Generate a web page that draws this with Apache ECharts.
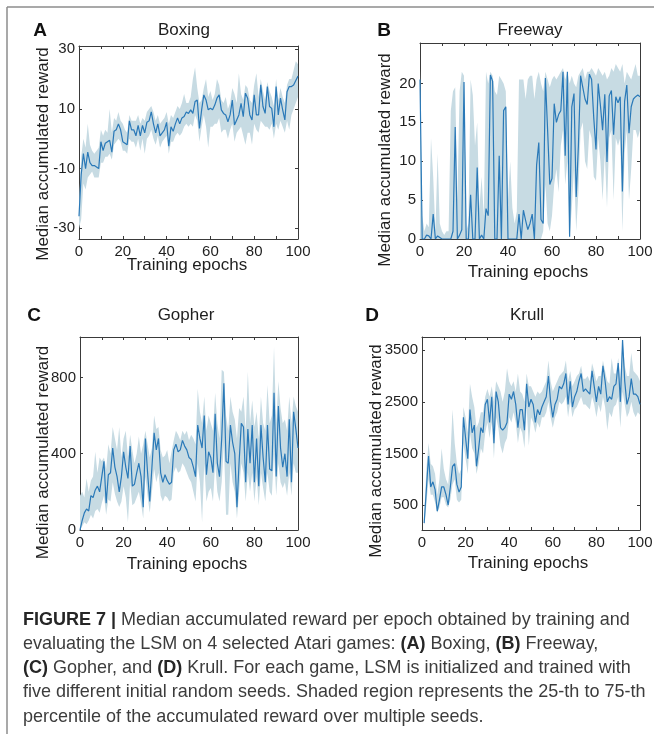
<!DOCTYPE html>
<html>
<head>
<meta charset="utf-8">
<script src="https://cdn.jsdelivr.net/npm/echarts@6/dist/echarts.min.js"></script>
<style>
html,body{margin:0;padding:0;background:#fff;}
#chart{width:654px;height:734px;}
</style>
</head>
<body>
<div id="chart"></div>
<script>
// ---------------- DATA ----------------
const panelLetters = ['A', 'B', 'C', 'D'];
const gameTitles = ['Boxing', 'Freeway', 'Gopher', 'Krull'];
const xTitle = 'Training epochs';
const yTitle = 'Median accumulated reward';
const xLabelValues = [0, 20, 40, 60, 80, 100];

// Boxing (epochs 0..100)
const boxingStart = 0;
const boxingTicks = [-30, -10, 10, 30];
const boxingMedian = [-26,-12,-5,-10,-4.5,-8,-9,-9,-9.5,-10,-1,-4,-1.5,-1,-0.5,-4.5,2.5,3,5,3,-1,-1.5,-2,6,3,3,1,4.5,1,4.5,2,5.5,6,9,5,2,5,1,2,3,5.5,-2.5,4,2.5,5,7,5,7,7.5,9,8.5,9.7,8.5,12.5,13,3.5,9.7,14.7,13,9.7,10.2,9.7,11.3,13.6,14.7,9.7,8.5,8,5.7,8,13,4.6,6.3,8,11.9,7.4,15.3,13.6,8,6.3,14.7,8,8,18.1,10.8,8.5,17.5,10.8,10.2,4,17.5,8,13.6,9.7,6.3,15.8,17.5,17.5,18,19.5,21];
const boxingUpper = [-22,-6,0,-3,5,-2,-4,-5,-4,-3,3,1,3,2,10,2,7,6,9,6,5,3,2,8,6,6,6,8,5,7,6,9,10,11,9,6,8,5,6,7,9,5,8,7,9,11,10,12,15,12,12,14,20,24,17,12,13,17,20,14,16,13,15,20,18,13,12,14,10,12,17,15,12,22,15,13,18,17,13,12,18,22,14,20,16,13,19,16,14,11,20,13,17,14,12,18,20,20,23,26,25];
const boxingLower = [-30,-27,-15,-17,-13,-12,-11,-13,-13,-13,-8,-8,-6,-6,-5,-7,-2,-1,0,-1,-4,-4,-5,0,-1,-1,-3,0,-4,0,-5,0,1,3,0,-2,1,-3,-1,0,1,-5,-1,-1,1,2,1,2,4,5,4,5,4,8,6,-1,4,8,4,-3,4,4,5,5,7,2,3,3,0,3,5,-1,2,3,4,1,-2,2,2,-2,5,3,2,6,5,4,4,3,5,0,5,3,6,4,2,6,3,8,10,12,14];

// Freeway (epochs 0..100)
const freewayStart = 0;
const freewayTicks = [0, 5, 10, 15, 20];
const freewayMedian = [20.5,0,0,0.5,0.4,0,3.2,0,0.4,0.2,0,0,0,0,0,1,14.4,0,0.5,1.2,20.2,0,0,5.7,0,0,9.2,0,0.5,0,3.9,3,21.1,20.3,0,0,10.7,0,16.5,17,0,0,0,0,0,3.2,0,3.7,2.4,1.2,2,3.2,0,9.5,12.4,2.5,2,20.7,14,7,7.8,17.4,15,16,16.5,21.5,10.7,21.5,0.3,17,18.7,5.4,12,21,19.5,18,17.3,21.2,20.5,15.5,11.5,20,17.2,14,18.6,9.9,18.4,19.1,13.4,18.3,17.5,18.3,6.1,17.7,19.8,13.6,17,18,18.3,18.5,18.3];
const freewayUpper = [22,3,1,2,1.5,13,8,1,11,2,1,0.5,1,1,16.5,19,19.5,5,19,21.5,21,1,2,20.5,18.5,12,15,4,8,3,21.5,20,21.5,21,19,18.5,21,20.5,20,19,5,10,4,2,3.5,20.5,20.5,20.5,18,20.5,21,21,18,20.5,21.5,20,19,21.5,20.5,19.5,20.5,21,20.5,21,21.5,22,20.5,21.5,20,21,20,19.5,21,21.5,22,20.5,21.5,21.5,22,21.5,21,22,21.5,21,21.5,20.5,21,22,21.5,22.5,22,21.5,22.5,20,21.5,21,20.5,21.5,22.5,21,21];
const freewayLower = [0,0,0,0,0,0,0,0,0,0,0,0,0,0,0,0,0,0,0,0,0,0,0,0,0,0,0,0,0,0,0,0,0,0,0,0,0,0,0,0,0,0,0,0,0,0,0,0,0,0,0,0,0,0,0,0,1,7,2,1,3,7,9,6,12,14,7,10,0,4,9,1,6,14,15,10,9,14,13,8,7.5,13,10,5,11,4,13,14,5,13,12,13,1,11,14,5,9,14,14,13,14];

// Gopher (epochs 0..100)
const gopherStart = 0;
const gopherTicks = [0, 400, 800];
const gopherMedian = [0,50,90,110,100,180,170,210,230,200,280,360,140,290,300,430,330,280,200,280,410,330,270,440,230,240,300,350,280,120,480,300,150,330,510,420,480,300,250,290,260,240,250,420,450,410,420,470,440,420,380,370,330,280,550,480,430,600,290,410,380,300,610,350,280,480,770,360,350,550,460,400,120,360,560,540,250,530,350,550,250,480,230,550,380,250,550,320,310,720,280,650,430,330,400,280,580,250,620,530,430];
const gopherUpper = [180,200,170,270,200,260,280,410,300,380,360,380,320,450,400,540,480,420,540,380,480,520,380,500,420,350,400,490,400,450,520,450,380,430,600,530,540,420,380,390,420,350,410,470,520,500,470,520,500,520,470,500,480,450,740,620,560,700,520,600,560,520,720,560,480,840,830,600,520,700,620,580,480,640,620,700,520,830,560,680,540,620,480,700,560,520,760,560,600,960,560,780,640,560,580,520,700,560,700,650,620];
const gopherLower = [0,20,40,30,50,80,60,100,110,90,140,180,80,160,150,250,190,150,120,150,230,170,40,250,130,140,170,200,140,60,280,180,90,200,320,250,300,180,150,180,170,150,160,300,330,300,310,350,330,300,270,250,200,150,350,250,40,350,150,200,220,150,350,200,150,250,450,80,80,350,250,200,60,200,350,300,150,300,200,300,150,280,130,300,220,150,300,200,180,400,180,350,250,220,250,180,300,180,350,300,300];

// Krull (epochs 1..100)
const krullStart = 1;
const krullTicks = [500, 1500, 2500, 3500];
const krullMedian = [150,800,1450,850,950,800,380,600,850,850,700,500,850,1250,1300,900,750,850,2200,1800,1400,2350,1900,2050,1250,1600,2000,1900,2450,2550,2100,2600,1700,2700,2500,2000,1950,2000,2100,2650,2550,2700,2450,2000,2350,2350,1950,2850,2400,2550,2450,2100,2350,2250,2400,2500,2600,3000,2500,2200,2450,2550,2800,2750,2850,3050,2450,2900,2400,2600,2700,2900,3050,2700,2750,2700,2650,3100,2800,2500,2800,2650,3200,2900,2500,2600,2550,2800,2850,3250,2500,3700,2900,2450,2600,2950,2650,2650,2600,2450];
const krullUpper = [300,1200,1700,1300,1250,1100,700,1000,1600,1200,1000,900,1400,2350,1700,1300,1100,1200,2400,2200,1900,2850,2600,2400,2000,2100,2300,2300,2600,2750,2600,2800,2500,2900,2800,2700,2500,2700,3150,2900,2800,2900,2700,3050,2700,2650,2500,3050,2800,2800,2700,2600,2700,2650,2700,2800,2900,3300,2900,2700,2800,2900,3000,3050,3100,3300,2900,3100,2800,2900,3000,3050,3200,2950,2950,3000,2900,3250,3100,2900,3000,3000,3300,3100,2900,2850,3350,3050,3050,3350,2950,3700,3200,3000,3000,3450,3100,3050,3000,2900];
const krullLower = [100,500,1000,700,700,550,350,450,650,650,500,450,600,900,1000,600,550,600,1700,1400,1100,1900,1600,1500,1100,1300,1600,1500,1900,2100,1800,2100,1400,2200,2000,1650,1500,1700,1800,2200,2100,2300,2100,1700,2000,1900,1600,2400,1650,2200,2100,1900,2100,2000,2200,2200,2300,2500,2200,2000,2200,2300,2500,2450,2500,2600,2200,2500,2200,2350,2400,2500,2600,2450,2450,2400,2350,2600,2450,2200,2450,2300,2600,2400,1950,2300,2200,2400,2450,2600,2000,2700,2450,2200,2300,2500,2300,2200,2300,2250];

const captionLines = [
  '{b|FIGURE 7 |} Median accumulated reward per epoch obtained by training and',
  'evaluating the LSM on 4 selected Atari games: {b|(A)} Boxing, {b|(B)} Freeway,',
  '{b|(C)} Gopher, and {b|(D)} Krull. For each game, LSM is initialized and trained with',
  'five different initial random seeds. Shaded region represents the 25-th to 75-th',
  'percentile of the accumulated reward over multiple seeds.'
];

// ---------------- LAYOUT / STYLE ----------------
const FONT = '"Liberation Sans", Arial, Helvetica, sans-serif';
const LINE_COLOR = '#2a79b8';
const BAND_COLOR = '#c7dbe3';
const AXIS_COLOR = '#3a3a3a';

const panels = [
  {grid:{left:79, top:46, width:219, height:193}, ymin:-33.6, ymax:31.1, ticks:boxingTicks, start:boxingStart, med:boxingMedian, lo:boxingLower, hi:boxingUpper,
   letter:[40,31], title:[184,30], ytitle:[43,154], xtitle:[187,265]},
  {grid:{left:420, top:43, width:220, height:196}, ymin:0, ymax:25.2, ticks:freewayTicks, start:freewayStart, med:freewayMedian, lo:freewayLower, hi:freewayUpper,
   letter:[384,31], title:[530,30], ytitle:[385,160], xtitle:[528,272]},
  {grid:{left:80, top:337, width:218, height:193}, ymin:0, ymax:1012, ticks:gopherTicks, start:gopherStart, med:gopherMedian, lo:gopherLower, hi:gopherUpper,
   letter:[34,315.5], title:[186,315.5], ytitle:[43,452.5], xtitle:[187,564]},
  {grid:{left:422, top:337, width:218, height:193}, ymin:16, ymax:3757, ticks:krullTicks, start:krullStart, med:krullMedian, lo:krullLower, hi:krullUpper,
   letter:[372,315.5], title:[527,315.5], ytitle:[376,451], xtitle:[528,563]}
];

const grids = [], xAxes = [], yAxes = [], series = [], graphics = [];
const axisLineStyle = {color: AXIS_COLOR, width: 1};
const plainNum = v => String(v);

panels.forEach((p, i) => {
  grids.push(Object.assign({containLabel:false, outerBoundsMode:'none'}, p.grid));
  const xBase = {type:'value', gridIndex:i, min:0, max:100, interval:10,
    splitLine:{show:false},
    axisLine:{show:true, onZero:false, lineStyle:axisLineStyle},
    axisTick:{show:true, inside:true, length:3, lineStyle:axisLineStyle}};
  xAxes.push(Object.assign({}, xBase, {position:'bottom',
    axisLabel:{show:true, customValues:xLabelValues, formatter:plainNum, fontFamily:FONT, fontSize:15, color:'#1e1e1e', margin:5}}));
  xAxes.push(Object.assign({}, xBase, {position:'top', axisLabel:{show:false}}));
  const yBase = {type:'value', gridIndex:i, min:p.ymin, max:p.ymax,
    splitLine:{show:false},
    axisLine:{show:true, onZero:false, lineStyle:axisLineStyle},
    axisTick:{show:true, inside:true, length:3, customValues:p.ticks, lineStyle:axisLineStyle}};
  yAxes.push(Object.assign({}, yBase, {position:'left',
    axisLabel:{show:true, customValues:p.ticks, formatter:plainNum, fontFamily:FONT, fontSize:15, color:'#1e1e1e', margin:4}}));
  yAxes.push(Object.assign({}, yBase, {position:'right', axisLabel:{show:false}}));

  const xi = 2*i, yi = 2*i;
  const bandData = p.lo.map((v,k)=>[p.start+k, v, p.hi[k]]);
  series.push({type:'custom', xAxisIndex:xi, yAxisIndex:yi, data:bandData,
    encode:{x:0, y:[1,2]}, silent:true, clip:true, z:1,
    renderItem:(params, api) => {
      if (params.dataIndex !== 0) return null;
      const pts = [];
      for (let k = 0; k < bandData.length; k++) pts.push(api.coord([bandData[k][0], bandData[k][2]]));
      for (let k = bandData.length - 1; k >= 0; k--) pts.push(api.coord([bandData[k][0], bandData[k][1]]));
      return {type:'polygon', shape:{points:pts}, style:{fill:BAND_COLOR, stroke:null}};
    }});
  series.push({type:'line', xAxisIndex:xi, yAxisIndex:yi,
    data:p.med.map((v,k)=>[p.start+k, v]), symbol:'none', silent:true,
    lineStyle:{color:LINE_COLOR, width:1.2}, z:3});

  graphics.push({type:'text', x:p.letter[0], y:p.letter[1], style:{text:panelLetters[i], font:'bold 19px '+FONT, fill:'#111', align:'center', verticalAlign:'middle', textAlign:'center', textVerticalAlign:'middle'}});
  graphics.push({type:'text', x:p.title[0], y:p.title[1], style:{text:gameTitles[i], font:'17px '+FONT, fill:'#1e1e1e', align:'center', verticalAlign:'middle', textAlign:'center', textVerticalAlign:'middle'}});
  graphics.push({type:'text', x:p.xtitle[0], y:p.xtitle[1], style:{text:xTitle, font:'17px '+FONT, fill:'#1e1e1e', align:'center', verticalAlign:'middle', textAlign:'center', textVerticalAlign:'middle'}});
  graphics.push({type:'text', x:p.ytitle[0], y:p.ytitle[1], rotation:Math.PI/2, style:{text:yTitle, font:'17px '+FONT, fill:'#1e1e1e', align:'center', verticalAlign:'middle', textAlign:'center', textVerticalAlign:'middle'}});
});

// frame lines
graphics.push({type:'line', shape:{x1:7, y1:7, x2:654, y2:7}, style:{stroke:'#8c8c8c', lineWidth:1.5}});
graphics.push({type:'line', shape:{x1:7, y1:7, x2:7, y2:734}, style:{stroke:'#8c8c8c', lineWidth:1.5}});

// caption
captionLines.forEach((t, k) => {
  graphics.push({type:'text', x:23, y:619.5 + k*24.2, scaleX:0.948, style:{
    text:t, font:'19px '+FONT, fontFamily:FONT, fontSize:19, fill:'#3c3c3c',
    align:'left', verticalAlign:'middle', textAlign:'left', textVerticalAlign:'middle',
    rich:{b:{fontFamily:FONT, fontSize:19, fontWeight:'bold', fill:'#262626', color:'#262626'}}
  }});
});

const chart = echarts.init(document.getElementById('chart'), null, {renderer:'canvas'});
chart.setOption({
  animation:false,
  backgroundColor:'#ffffff',
  grid:grids, xAxis:xAxes, yAxis:yAxes, series:series, graphic:graphics
});
</script>
</body>
</html>
